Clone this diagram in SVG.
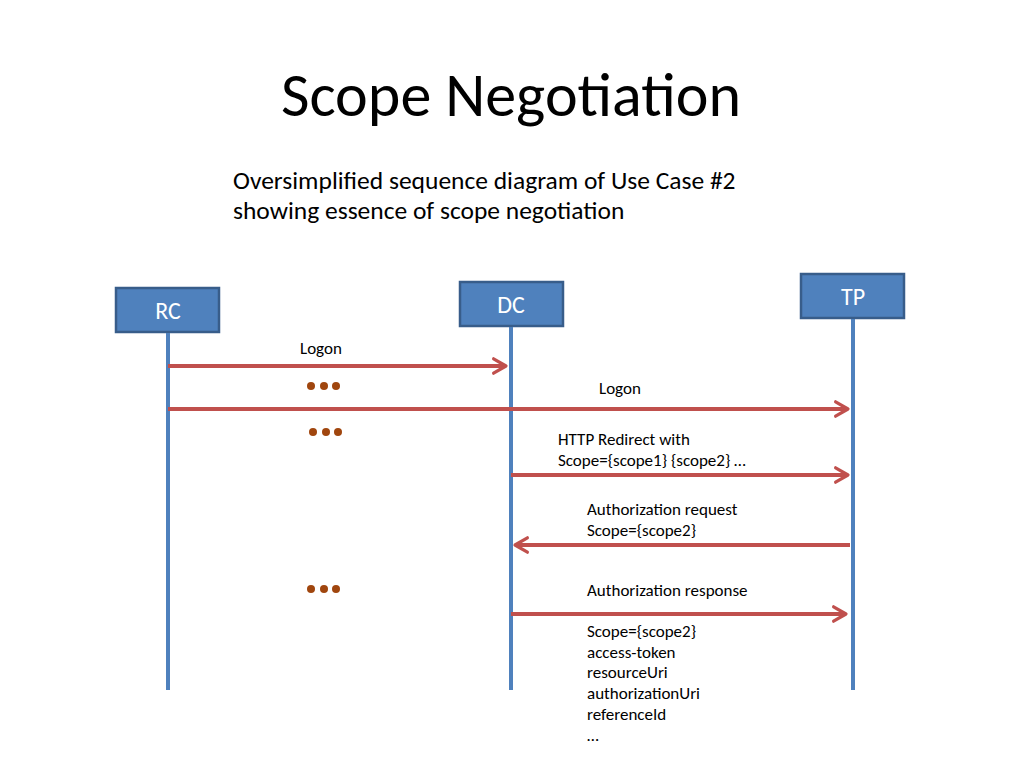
<svg xmlns="http://www.w3.org/2000/svg" width="1024" height="768" viewBox="0 0 1024 768">
<style>
text{font-family:Carlito,Lato,"Liberation Sans",sans-serif;fill:#000}
.box{fill:#4F81BD;stroke:#385D8A;stroke-width:2.5}
.bt{fill:#fff;font-size:24px;text-anchor:middle}
.life{stroke:#4F81BD;stroke-width:4}
.msg{stroke:#C0504D;stroke-width:4;fill:none;marker-end:url(#ah)}
.lbl{font-size:17px}
.dot{fill:#A0460E}
</style>
<defs>
<marker id="ah" markerWidth="5" markerHeight="5" refX="3.7" refY="2.5" orient="auto" markerUnits="strokeWidth"><path d="M0.6,0.7 L3.7,2.5 L0.6,4.3" fill="none" stroke="#C0504D" stroke-width="0.8" stroke-linecap="round" stroke-linejoin="round"/></marker>
</defs>
<rect width="1024" height="768" fill="#fff"/>
<text x="511" y="116" font-size="62" text-anchor="middle">Scope Negotiation</text>
<text x="233" y="189" font-size="25.5">Oversimplified sequence diagram of Use Case #2</text>
<text x="233" y="219" font-size="25.5">showing essence of scope negotiation</text>
<g id="RC"><rect class="box" x="116" y="288" width="103" height="44"/><text class="bt" x="168" y="319">RC</text><line class="life" x1="168" y1="333" x2="168" y2="690"/></g>
<g id="DC"><rect class="box" x="460" y="282" width="103" height="44"/><text class="bt" x="511" y="313">DC</text><line class="life" x1="511" y1="327" x2="511" y2="690"/></g>
<g id="TP"><rect class="box" x="801" y="274" width="103" height="44"/><text class="bt" x="853" y="305">TP</text><line class="life" x1="853" y1="319" x2="853" y2="690"/></g>
<g id="connectors">
<line class="msg" x1="168" y1="366" x2="506" y2="366"/>
<line class="msg" x1="168" y1="409" x2="848" y2="409"/>
<line class="msg" x1="511" y1="475" x2="848" y2="475"/>
<line class="msg" x1="850" y1="545" x2="515" y2="545"/>
<line class="msg" x1="511" y1="614" x2="846" y2="614"/>
</g>
<g id="labels">
<text class="lbl" x="300" y="354">Logon</text>
<text class="lbl" x="599" y="394">Logon</text>
<text class="lbl" x="558" y="445">HTTP Redirect with</text>
<text class="lbl" x="558" y="466">Scope={scope1} {scope2} …</text>
<text class="lbl" x="587" y="515">Authorization request</text>
<text class="lbl" x="587" y="536">Scope={scope2}</text>
<text class="lbl" x="587" y="596">Authorization response</text>
<text class="lbl" x="587" y="637">Scope={scope2}</text>
<text class="lbl" x="587" y="658">access-token</text>
<text class="lbl" x="587" y="678">resourceUri</text>
<text class="lbl" x="587" y="699">authorizationUri</text>
<text class="lbl" x="587" y="720">referenceId</text>
<text class="lbl" x="587" y="741">…</text>
</g>
<g id="dots">
<circle class="dot" cx="311" cy="386" r="4"/><circle class="dot" cx="324" cy="386" r="4"/><circle class="dot" cx="336" cy="386" r="4"/>
<circle class="dot" cx="313" cy="432" r="4"/><circle class="dot" cx="326" cy="432" r="4"/><circle class="dot" cx="338" cy="432" r="4"/>
<circle class="dot" cx="311" cy="589" r="4"/><circle class="dot" cx="324" cy="589" r="4"/><circle class="dot" cx="336" cy="589" r="4"/>
</g>
</svg>
